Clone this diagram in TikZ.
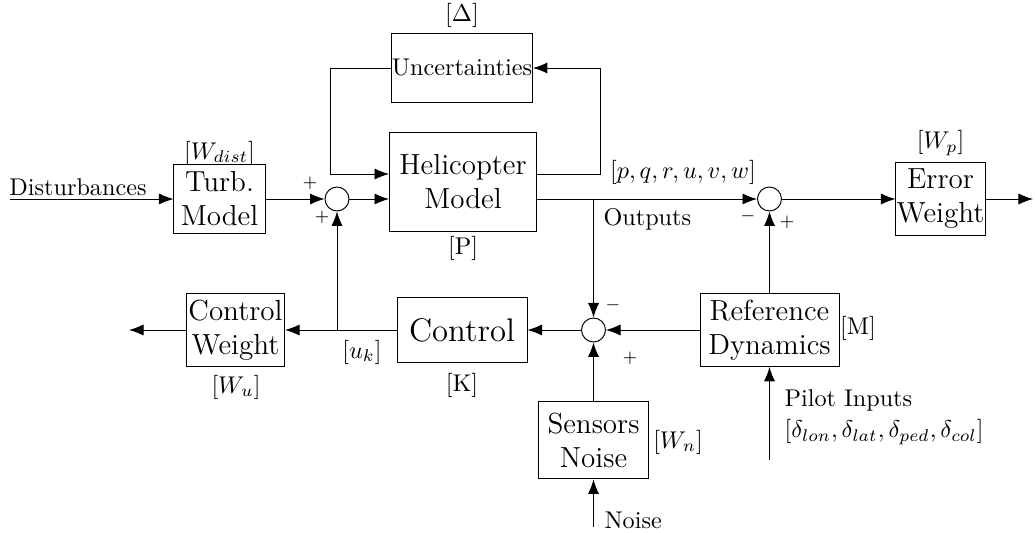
\documentclass[tikz,border=0pt]{standalone}
\usepackage{amsmath,amssymb}
\usetikzlibrary{arrows.meta,positioning}

\begin{document}
\begin{tikzpicture}[x=0.413pt,y=-0.413pt,>={Latex[length=6pt,width=4.6pt]},
  blk/.style={draw,align=center,inner sep=0pt,font=\large},
  sumn/.style={draw,circle,minimum size=9.9pt,inner sep=0pt},
  sgn/.style={font=\scriptsize}]
\useasboundingbox (0,0) rectangle (1035,533);
% blocks
\node[blk,font=\normalsize,minimum width=58.2pt,minimum height=28.1pt] (unc) at (462,68) {Uncertainties};
\node[blk,minimum width=60.7pt,minimum height=40.5pt] (heli) at (463,182) {Helicopter\\Model};
\node[blk,minimum width=37.6pt,minimum height=28.1pt] (turb) at (219.5,199) {Turb.\\Model};
\node[blk,minimum width=40.5pt,minimum height=30.1pt] (ctrlw) at (235.5,330) {Control\\Weight};
\node[blk,font=\fontsize{13.5}{16}\selectfont,minimum width=53.7pt,minimum height=26.8pt] (ctrl) at (462,330) {Control};
\node[blk,minimum width=57.4pt,minimum height=30.1pt] (refdyn) at (769.5,330) {Reference\\Dynamics};
\node[blk,minimum width=45.8pt,minimum height=32.2pt] (sens) at (593.5,440) {Sensors\\Noise};
\node[blk,minimum width=36.8pt,minimum height=30.1pt] (errw) at (940.5,199) {Error\\Weight};
% summing junctions
\node[sumn] (sumA) at (337,199) {};
\node[sumn] (sumB) at (769.5,199) {};
\node[sumn] (sumC) at (593.5,330) {};
% free ends
\coordinate (din) at (10,199);
\coordinate (uout) at (129,330);
\coordinate (eout) at (1033,199);
\coordinate (pil) at (769.5,460);
\coordinate (nin) at (593.5,527);
% connectors
\draw[->] (din) -- (turb.west);
\draw[->] (turb.east) -- (sumA.west);
\draw[->] (sumA.east) -- (heli.west |- sumA);
\draw[->] (unc.west) -| (330,174) -- (heli.west |- 0,174);
\draw[->] (heli.east |- 0,174) -- (600,174) |- (unc.east);
\draw[->] (heli.east |- sumB) -- (sumB.west);
\draw[->] (sumB.east) -- (errw.west);
\draw[->] (errw.east) -- (eout);
\draw[->] (sumC |- sumB) -- (sumC.north);
\draw[->] (refdyn.west) -- (sumC.east);
\draw[->] (sumC.west) -- (ctrl.east);
\draw[->] (ctrl.west) -- (ctrlw.east);
\draw[->] (ctrlw.west) -- (uout);
\draw[->] (sumA |- ctrl) -- (sumA.south);
\draw[->] (refdyn.north) -- (sumB.south);
\draw[->] (pil) -- (refdyn.south);
\draw[->] (sens.north) -- (sumC.south);
\draw[->] (nin) -- (sens.south);
% labels
\node (lunc) at (462,15) {$[\Delta]$};
\node (lheli) at (463,248) {[P]};
\node (lturb) at (219.5,153) {$[W_{dist}]$};
\node (lctrlw) at (236,387) {$[W_u]$};
\node (lctrl) at (462,385) {[K]};
\node (lref) at (858,328) {[M]};
\node (lsens) at (678,442) {$[W_n]$};
\node (lerrw) at (940.5,143) {$[W_p]$};
\node (luk) at (362,352) {$[u_k]$};
\node (lstate) at (683,172) {$[p,q,r,u,v,w]$};
\node[anchor=west] (lout) at (595,219) {Outputs};
\node (ldist) at (78,187) {Disturbances};
\node[anchor=west] (lpil) at (776,400) {Pilot Inputs};
\node[anchor=west] (ldel) at (776,432) {$[\delta_{lon},\delta_{lat},\delta_{ped},\delta_{col}]$};
\node[anchor=west] (lnoise) at (596,520) {Noise};
% signs
\node[sgn] (sA1) at (310,183) {$+$};
\node[sgn] (sA2) at (322,217) {$+$};
\node[sgn] (sB1) at (748,216) {$-$};
\node[sgn] (sB2) at (787,222) {$+$};
\node[sgn] (sC1) at (613,305) {$-$};
\node[sgn] (sC2) at (630,358) {$+$};
\end{tikzpicture}
\end{document}
